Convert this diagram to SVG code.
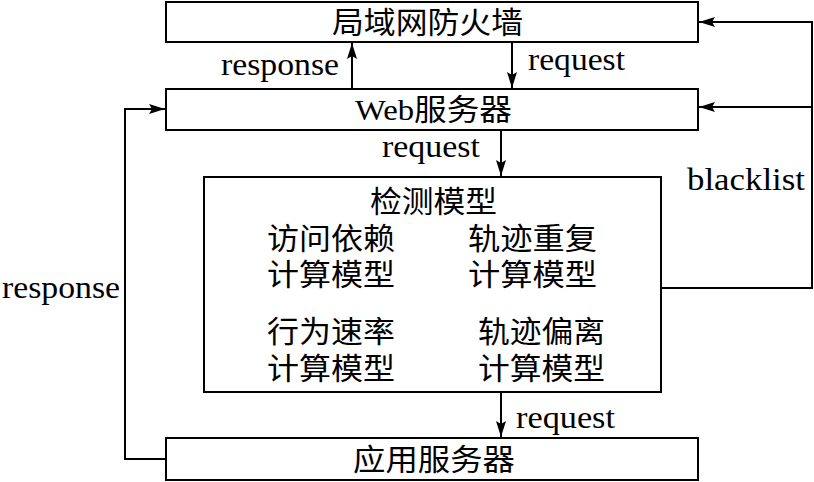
<svg xmlns="http://www.w3.org/2000/svg" width="814" height="482" viewBox="0 0 814 482">
<style>
.box{fill:#fff;stroke:#000;stroke-width:2}
.cjk{font-family:"Liberation Serif","Noto Sans CJK SC",serif;font-size:30px;fill:#000}
.lat{font-family:"Liberation Serif",serif;font-size:31px;fill:#000}
.con{fill:none;stroke:#000;stroke-width:2}
</style>
<defs>
<marker id="ah" markerUnits="userSpaceOnUse" markerWidth="18" markerHeight="12" refX="16" refY="5" orient="auto">
<path d="M0,0 L16,5 L0,10 L3,5 Z" fill="#000"/>
</marker>
</defs>
<rect width="814" height="482" fill="#fff"/>
<g id="connectors">
<line class="con" x1="352" y1="89" x2="352" y2="43" marker-end="url(#ah)"/>
<line class="con" x1="512" y1="42" x2="512" y2="88" marker-end="url(#ah)"/>
<line class="con" x1="501" y1="130" x2="501" y2="176" marker-end="url(#ah)"/>
<line class="con" x1="501" y1="392" x2="501" y2="437" marker-end="url(#ah)"/>
<polyline class="con" points="166,459 125,459 125,109 165,109" marker-end="url(#ah)"/>
<polyline class="con" points="661,288 812,288 812,22 699,22" marker-end="url(#ah)"/>
<polyline class="con" points="812,107 699,107" marker-end="url(#ah)"/>
<text class="lat" x="221" y="75" textLength="118" lengthAdjust="spacingAndGlyphs">response</text>
<text class="lat" x="528" y="70" textLength="97" lengthAdjust="spacingAndGlyphs">request</text>
<text class="lat" x="382" y="157" textLength="98" lengthAdjust="spacingAndGlyphs">request</text>
<text class="lat" x="516" y="428" textLength="99" lengthAdjust="spacingAndGlyphs">request</text>
<text class="lat" x="2" y="298" textLength="118" lengthAdjust="spacingAndGlyphs">response</text>
<text class="lat" x="687" y="190" textLength="118" lengthAdjust="spacingAndGlyphs">blacklist</text>
</g>
<g id="firewall">
<rect class="box" x="166" y="2" width="532" height="40"/>
<text class="cjk" x="332" y="33" textLength="191" lengthAdjust="spacingAndGlyphs">局域网防火墙</text>
</g>
<g id="web">
<rect class="box" x="166" y="89" width="532" height="41"/>
<text class="cjk" x="355" y="120" textLength="157" lengthAdjust="spacingAndGlyphs">Web服务器</text>
</g>
<g id="detect">
<rect class="box" x="204" y="177" width="457" height="215"/>
<text class="cjk" x="370" y="212" textLength="127" lengthAdjust="spacingAndGlyphs">检测模型</text>
<text class="cjk" x="267" y="249" textLength="128" lengthAdjust="spacingAndGlyphs">访问依赖</text>
<text class="cjk" x="267" y="285" textLength="128" lengthAdjust="spacingAndGlyphs">计算模型</text>
<text class="cjk" x="267" y="342" textLength="128" lengthAdjust="spacingAndGlyphs">行为速率</text>
<text class="cjk" x="267" y="379" textLength="128" lengthAdjust="spacingAndGlyphs">计算模型</text>
<text class="cjk" x="468" y="249" textLength="129" lengthAdjust="spacingAndGlyphs">轨迹重复</text>
<text class="cjk" x="468" y="285" textLength="129" lengthAdjust="spacingAndGlyphs">计算模型</text>
<text class="cjk" x="478" y="342" textLength="127" lengthAdjust="spacingAndGlyphs">轨迹偏离</text>
<text class="cjk" x="478" y="379" textLength="127" lengthAdjust="spacingAndGlyphs">计算模型</text>
</g>
<g id="app">
<rect class="box" x="166" y="438" width="532" height="42"/>
<text class="cjk" x="353" y="470" textLength="162" lengthAdjust="spacingAndGlyphs">应用服务器</text>
</g>
</svg>
